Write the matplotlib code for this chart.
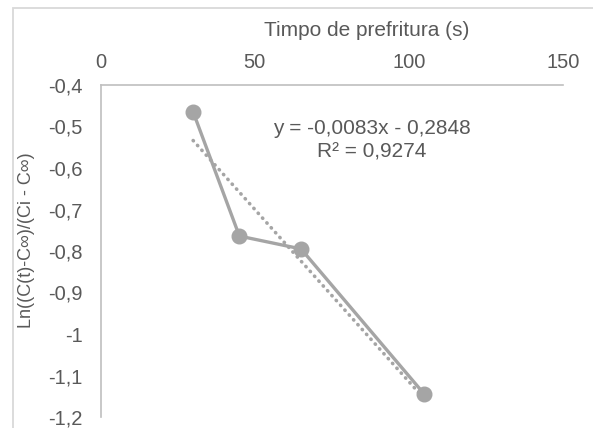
import matplotlib.pyplot as plt
import numpy as np
from matplotlib.patches import Rectangle

plt.rcParams['font.family'] = ['Liberation Sans', 'DejaVu Sans']

# donnees
tempo = [30, 45, 65, 105]
ln_ratio = [-0.465, -0.764, -0.795, -1.145]

# courbe de tendance (etiquette du graphique)
pente = -0.0083
origine = -0.2848
r2 = 0.9274

xticks = [0, 50, 100, 150]
yticks = [-0.4, -0.5, -0.6, -0.7, -0.8, -0.9, -1.0, -1.1, -1.2]

gris = '#A5A5A5'
texte = '#595959'
axe = '#BFBFBF'

fig = plt.figure(figsize=(5.93, 4.28), dpi=100)
ax = fig.add_axes([100.7/593, 1 - 417/428, (563 - 100.7)/593, (417 - 85)/428])

# cadre du graphique
fig.patches.append(Rectangle((12.7/593, -0.1), 1.2, (428 - 8.3)/428 + 0.1,
                             transform=fig.transFigure, fill=False,
                             edgecolor='#D9D9D9', linewidth=1.3))

ax.plot(tempo, ln_ratio, color=gris, linewidth=2.4, marker='o',
        markersize=10.5, zorder=3)

xt = np.array([min(tempo), max(tempo)])
ax.plot(xt, pente*xt + origine, color=gris, linewidth=2.6,
        linestyle=(0, (0.1, 1.7)), dash_capstyle='round', zorder=2)

ax.set_xlim(0, 150)
ax.set_ylim(-1.2, -0.4)
ax.set_xticks(xticks)
ax.set_yticks(yticks)
ax.set_xticklabels([str(v) for v in xticks])
ax.set_yticklabels([('%g' % v).replace('.', ',') for v in yticks])
ax.xaxis.tick_top()
ax.tick_params(length=0, labelsize=14.5, colors=texte)
ax.tick_params(axis='y', pad=13)
ax.tick_params(axis='x', pad=9)

for s in ['right', 'bottom']:
    ax.spines[s].set_visible(False)
for s in ['top', 'left']:
    ax.spines[s].set_color(axe)
    ax.spines[s].set_linewidth(1.2)

fig.text(367/593, 1 - 30/428, 'Timpo de prefritura (s)', ha='center',
         va='center', fontsize=15, color=texte)
fig.text(27/593, 1 - 240/428, 'Ln((C(t)-C∞)/(Ci - C∞)', rotation=90,
         ha='center', va='center', fontsize=13, color=texte)

eq = 'y = %sx - %s' % (('%.4f' % pente).replace('.', ','),
                       ('%.4f' % -origine).replace('.', ','))
fig.text(372/593, 1 - 128/428, eq, ha='center', va='center',
         fontsize=15, color=texte)
fig.text(372/593, 1 - 152/428, 'R² = ' + ('%.4f' % r2).replace('.', ','),
         ha='center', va='center', fontsize=15, color=texte)

fig.savefig('out.png', dpi=100)
